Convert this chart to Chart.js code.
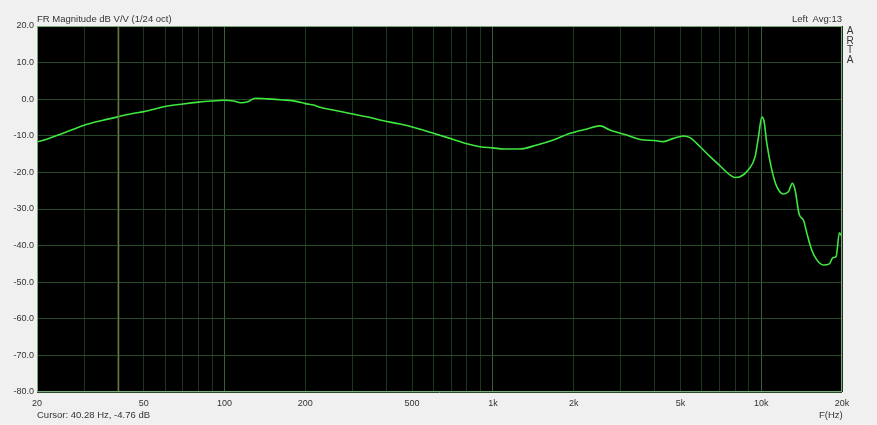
<!DOCTYPE html>
<html>
<head>
<meta charset="utf-8">
<script src="https://cdn.jsdelivr.net/npm/chart.js@4.4.0/dist/chart.umd.min.js"></script>
<style>
  html, body { margin: 0; padding: 0; background: #f0f0f0; }
  #wrap { position: relative; width: 877px; height: 425px; font-family: "Liberation Sans", Arial, sans-serif; color: #333; }
  #wrap canvas { position: absolute; left: 0; top: 0; }
  .lbl { position: absolute; font-size: 9.5px; white-space: nowrap; line-height: 1; }
  #arta { position: absolute; left: 845px; top: 26px; font-size: 10px; line-height: 9.5px; width: 10px; text-align: center; }
</style>
</head>
<body>
<div id="wrap">
  <canvas id="fr" width="877" height="425"></canvas>
  <div class="lbl" style="left:37px; top:14px;">FR Magnitude dB V/V (1/24 oct)</div>
  <div class="lbl" style="right:35px; top:14px;">Left&nbsp; Avg:13</div>
  <div id="arta">A<br>R<br>T<br>A</div>
  <div class="lbl" style="left:37px; top:410px;">Cursor: 40.28 Hz, -4.76 dB</div>
  <div class="lbl" style="left:819px; top:410px;">F(Hz)</div>
</div>
<script>
// frequency response (Hz, dB)
const freqs = [20, 22, 25, 30, 35, 40.28, 45, 50, 55, 60, 70, 80, 90, 100, 108, 115, 122, 130, 145, 165,
  185, 200, 215, 227, 254, 294, 339, 391, 451, 520, 600, 692, 800, 896, 1000, 1100, 1260, 1460, 1680, 1940,
  2240, 2510, 2730, 3150, 3540, 4000, 4320, 4710, 5130, 5430, 5920, 6450, 7030, 7650, 7990, 8340, 8960, 9490,
  9770, 10050, 10250, 10490, 10950, 11430, 12090, 12620, 13070, 13370, 13870, 14360, 14790, 15430, 16110,
  17060, 17950, 18490, 19010, 19560, 20000];
const magnitude = [-11.7, -10.8, -9.3, -7.1, -5.8, -4.76, -4.0, -3.4, -2.7, -2.0, -1.3, -0.8, -0.5, -0.3, -0.5, -0.95, -0.7, 0.25, 0.1, -0.2,
  -0.6, -1.2, -1.6, -2.2, -2.95, -3.9, -4.8, -5.9, -6.8, -7.95, -9.3, -10.7, -12.2, -13.0, -13.3, -13.6, -13.6, -12.5, -11.15, -9.3,
  -8.15, -7.3, -8.4, -9.8, -11.0, -11.3, -11.6, -10.7, -10.05, -10.5, -13.0, -15.7, -18.25, -20.7, -21.4, -21.2, -19.3, -15.7,
  -10.2, -4.9, -6.1, -12.0, -19.3, -23.9, -25.9, -25.3, -23.0, -24.8, -31.6, -33.0, -36.6, -41.2, -43.9,
  -45.3, -45.0, -43.3, -43.0, -36.5, -37.6];

// cursor marker
const cursorFreq = 40.28;

// axes
const yTicks = [-80, -70, -60, -50, -40, -30, -20, -10, 0, 10, 20];
const xGrid = [20, 30, 40, 50, 60, 70, 80, 90, 100, 200, 300, 400, 500, 600, 700, 800, 900,
  1000, 2000, 3000, 4000, 5000, 6000, 7000, 8000, 9000, 10000, 20000];
const xLabels = { 20: '20', 50: '50', 100: '100', 200: '200', 500: '500', 1000: '1k', 2000: '2k', 5000: '5k', 10000: '10k', 20000: '20k' };

const points = freqs.map((f, i) => ({ x: f, y: magnitude[i] }));

// black plot area with a light green frame
const plotFrame = {
  id: 'plotFrame',
  beforeDraw(chart) {
    const { ctx, chartArea: a } = chart;
    ctx.save();
    ctx.fillStyle = '#000';
    ctx.fillRect(a.left, a.top, a.right - a.left, a.bottom - a.top);
    ctx.restore();
  },
  afterDraw(chart) {
    const { ctx, chartArea: a } = chart;
    ctx.save();
    ctx.strokeStyle = '#79a879';
    ctx.lineWidth = 1;
    ctx.strokeRect(a.left + 0.5, a.top + 0.5, a.right - a.left - 1, a.bottom - a.top - 1);
    ctx.restore();
  }
};

new Chart(document.getElementById('fr'), {
  type: 'line',
  data: {
    datasets: [
      {
        data: [{ x: cursorFreq, y: -80 }, { x: cursorFreq, y: 20 }],
        borderColor: '#6b7440',
        borderWidth: 1.3,
        pointRadius: 0
      },
      {
        data: points,
        borderColor: '#3ee83e',
        borderWidth: 1.6,
        pointRadius: 0,
        cubicInterpolationMode: 'monotone'
      }
    ]
  },
  options: {
    responsive: false,
    animation: false,
    layout: { padding: { top: 26, right: 35, left: 0, bottom: 0 } },
    plugins: { legend: { display: false }, tooltip: { enabled: false } },
    scales: {
      x: {
        type: 'logarithmic',
        min: 20,
        max: 20000,
        afterBuildTicks: s => { s.ticks = xGrid.map(v => ({ value: v })); },
        afterFit: s => { s.height = 33; },
        grid: {
          drawTicks: false,
          color: c => ([100, 1000, 10000].includes(c.tick && c.tick.value) ? '#35603a' : '#1c361c'),
          lineWidth: 1
        },
        border: { display: false },
        ticks: {
          autoSkip: false,
          maxRotation: 0,
          padding: 6,
          color: '#333',
          font: { family: 'Liberation Sans', size: 9 },
          callback: v => xLabels[v] || ''
        }
      },
      y: {
        type: 'linear',
        min: -80,
        max: 20,
        afterBuildTicks: s => { s.ticks = yTicks.map(v => ({ value: v })); },
        afterFit: s => { s.width = 37; },
        grid: { drawTicks: false, color: '#284a28', lineWidth: 1 },
        border: { display: false },
        ticks: {
          padding: 3,
          color: '#333',
          font: { family: 'Liberation Sans', size: 9 },
          callback: v => v.toFixed(1)
        }
      }
    }
  },
  plugins: [plotFrame]
});
</script>
</body>
</html>
